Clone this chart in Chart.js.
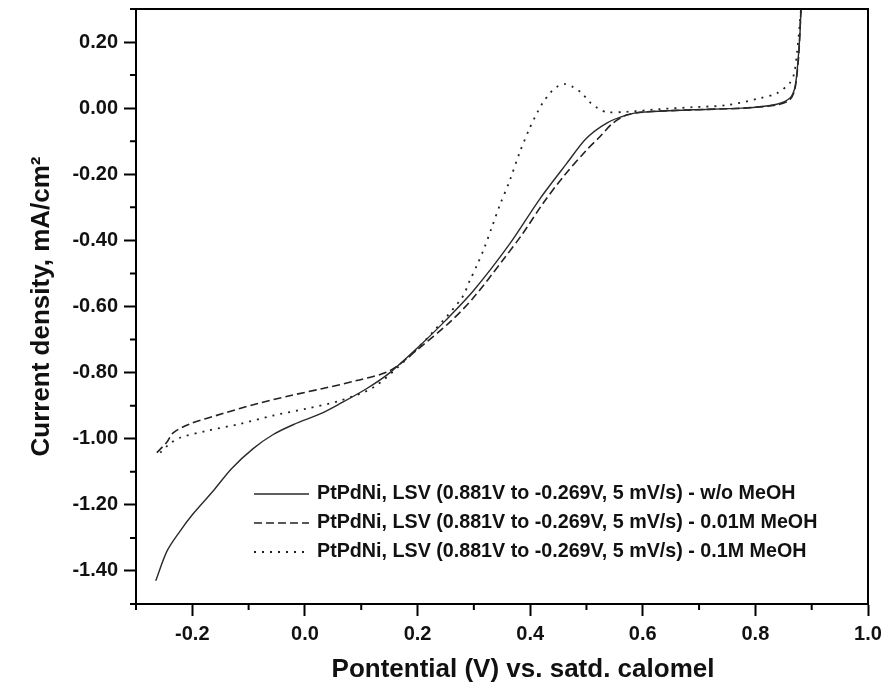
<!DOCTYPE html>
<html>
<head>
<meta charset="utf-8">
<script src="https://cdn.jsdelivr.net/npm/chart.js@4.4.0/dist/chart.umd.min.js"></script>
<style>
    html, body { margin: 0; padding: 0; background: #fff; }
    canvas { display: block; }
</style>
</head>
<body>
<canvas id="lsvChart" width="891" height="686"></canvas>
<script>
// legend labels
var seriesLabels = [
    "PtPdNi, LSV (0.881V to -0.269V, 5 mV/s) - w/o MeOH",
    "PtPdNi, LSV (0.881V to -0.269V, 5 mV/s) - 0.01M MeOH",
    "PtPdNi, LSV (0.881V to -0.269V, 5 mV/s) - 0.1M MeOH"
];
var xTitle = "Pontential (V) vs. satd. calomel";
var yTitle = "Current density, mA/cm\u00b2";

// w/o MeOH (solid)
var xNoMeoh = [-0.265, -0.245, -0.222, -0.200, -0.163, -0.130, -0.092, -0.057, -0.020, 0.027, 0.062, 0.110, 0.151, 0.200, 0.250, 0.300, 0.364, 0.417, 0.465, 0.500, 0.536, 0.571, 0.600, 0.689, 0.777, 0.838, 0.861, 0.869, 0.873, 0.876, 0.879, 0.881];
var yNoMeoh = [-1.430, -1.340, -1.280, -1.230, -1.158, -1.090, -1.030, -0.988, -0.957, -0.925, -0.894, -0.848, -0.800, -0.725, -0.642, -0.551, -0.410, -0.275, -0.167, -0.091, -0.045, -0.021, -0.012, -0.005, 0.000, 0.012, 0.030, 0.055, 0.094, 0.150, 0.220, 0.300];

// 0.01M MeOH (dashed)
var xLowMeoh = [-0.263, -0.245, -0.234, -0.204, -0.146, -0.085, -0.027, 0.032, 0.092, 0.151, 0.200, 0.257, 0.298, 0.351, 0.387, 0.422, 0.458, 0.500, 0.523, 0.547, 0.571, 0.600, 0.689, 0.777, 0.838, 0.861, 0.869, 0.873, 0.877, 0.879, 0.881];
var yLowMeoh = [-1.042, -1.010, -0.982, -0.955, -0.924, -0.894, -0.870, -0.848, -0.824, -0.794, -0.730, -0.648, -0.576, -0.461, -0.379, -0.290, -0.209, -0.127, -0.088, -0.045, -0.021, -0.012, -0.005, 0.000, 0.010, 0.025, 0.050, 0.090, 0.160, 0.230, 0.300];

// 0.1M MeOH (dotted)
var xHighMeoh = [-0.257, -0.240, -0.222, -0.174, -0.115, -0.057, 0.003, 0.062, 0.121, 0.180, 0.230, 0.279, 0.293, 0.307, 0.319, 0.332, 0.346, 0.364, 0.381, 0.399, 0.413, 0.422, 0.435, 0.447, 0.461, 0.476, 0.492, 0.506, 0.520, 0.536, 0.571, 0.630, 0.689, 0.749, 0.808, 0.838, 0.861, 0.869, 0.874, 0.878, 0.881];
var yHighMeoh = [-1.042, -1.015, -0.997, -0.976, -0.955, -0.930, -0.909, -0.885, -0.845, -0.760, -0.672, -0.573, -0.521, -0.470, -0.421, -0.360, -0.294, -0.218, -0.136, -0.061, -0.012, 0.015, 0.045, 0.064, 0.073, 0.064, 0.045, 0.018, 0.000, -0.012, -0.011, -0.003, 0.003, 0.009, 0.030, 0.045, 0.076, 0.106, 0.170, 0.240, 0.300];

function toPoints(xs, ys) {
    return xs.map(function (x, i) { return { x: x, y: ys[i] }; });
}

function isMajor(v) {
    return Math.abs(Math.round(v * 10)) % 2 === 0;
}

var fontFamily = "'Liberation Sans', Arial, sans-serif";

// box around plot, short minor ticks, x title (sits a bit right of centre in the original)
var frameAndMinorTicks = {
    id: "frameAndMinorTicks",
    afterDraw: function (chart) {
        var ctx = chart.ctx;
        var a = chart.chartArea;
        ctx.save();
        ctx.strokeStyle = "#000";
        ctx.lineWidth = 2;
        ctx.strokeRect(a.left, a.top, a.right - a.left, a.bottom - a.top);
        ctx.beginPath();
        chart.scales.x.ticks.forEach(function (t) {
            if (!isMajor(t.value)) {
                var px = chart.scales.x.getPixelForValue(t.value);
                ctx.moveTo(px, a.bottom);
                ctx.lineTo(px, a.bottom + 6);
            }
        });
        chart.scales.y.ticks.forEach(function (t) {
            if (!isMajor(t.value)) {
                var py = chart.scales.y.getPixelForValue(t.value);
                ctx.moveTo(a.left, py);
                ctx.lineTo(a.left - 6, py);
            }
        });
        ctx.stroke();

        ctx.fillStyle = "#111";
        ctx.font = "bold 26px " + fontFamily;
        ctx.textAlign = "center";
        ctx.textBaseline = "middle";
        ctx.fillText(xTitle, (a.left + a.right) / 2 + 21, 670);
        ctx.restore();
    }
};

// legend inside the plot, lower right
var insideLegend = {
    id: "insideLegend",
    afterDatasetsDraw: function (chart) {
        var ctx = chart.ctx;
        var rowY = [494, 523, 552];
        ctx.save();
        chart.data.datasets.forEach(function (ds, i) {
            ctx.beginPath();
            ctx.strokeStyle = ds.borderColor;
            ctx.lineWidth = ds.borderWidth;
            ctx.setLineDash(ds.borderDash || []);
            ctx.moveTo(254, rowY[i]);
            ctx.lineTo(309, rowY[i]);
            ctx.stroke();
            ctx.setLineDash([]);
            ctx.fillStyle = "#111";
            ctx.font = "bold 19.7px " + fontFamily;
            ctx.textBaseline = "middle";
            ctx.textAlign = "left";
            ctx.fillText(ds.label, 317, rowY[i]);
        });
        ctx.restore();
    }
};

var ctx = document.getElementById("lsvChart").getContext("2d");
var lsvChart = new Chart(ctx, {
    type: "line",
    data: {
        datasets: [
            {
                label: seriesLabels[0],
                data: toPoints(xNoMeoh, yNoMeoh),
                borderColor: "#2a2a2a",
                borderWidth: 1.4,
                borderDash: [],
                tension: 0.3
            },
            {
                label: seriesLabels[1],
                data: toPoints(xLowMeoh, yLowMeoh),
                borderColor: "#222",
                borderWidth: 1.6,
                borderDash: [8, 4],
                tension: 0.3
            },
            {
                label: seriesLabels[2],
                data: toPoints(xHighMeoh, yHighMeoh),
                borderColor: "#222",
                borderWidth: 1.8,
                borderDash: [2, 6],
                tension: 0.3
            }
        ]
    },
    options: {
        responsive: false,
        animation: false,
        devicePixelRatio: 1,
        elements: { point: { radius: 0 } },
        layout: { padding: { top: 9, right: 23, left: 0, bottom: 0 } },
        plugins: {
            legend: { display: false },
            tooltip: { enabled: false }
        },
        scales: {
            x: {
                type: "linear",
                min: -0.3,
                max: 1.0,
                afterFit: function (scale) {
                    scale.height = 82;
                    scale.paddingLeft = 0;
                    scale.paddingRight = 0;
                },
                border: { color: "#000", width: 2 },
                grid: {
                    drawOnChartArea: false,
                    tickLength: 12,
                    tickWidth: 2,
                    tickColor: function (c) { return isMajor(c.tick.value) ? "#000" : "rgba(0,0,0,0)"; }
                },
                ticks: {
                    stepSize: 0.1,
                    padding: 6,
                    color: "#111",
                    font: { family: fontFamily, size: 20, weight: "bold" },
                    maxRotation: 0,
                    autoSkip: false,
                    callback: function (v) { return isMajor(v) ? (Math.round(v * 10) / 10).toFixed(1) : ""; }
                },
                title: { display: false }
            },
            y: {
                min: -1.5,
                max: 0.3,
                afterFit: function (scale) {
                    scale.width = 136;
                    scale.paddingTop = 0;
                    scale.paddingBottom = 0;
                },
                border: { color: "#000", width: 2 },
                grid: {
                    drawOnChartArea: false,
                    tickLength: 12,
                    tickWidth: 2,
                    tickColor: function (c) { return isMajor(c.tick.value) ? "#000" : "rgba(0,0,0,0)"; }
                },
                ticks: {
                    stepSize: 0.1,
                    padding: 6,
                    color: "#111",
                    font: { family: fontFamily, size: 20, weight: "bold" },
                    autoSkip: false,
                    callback: function (v) { return isMajor(v) ? (Math.round(v * 10) / 10).toFixed(2) : ""; }
                },
                title: {
                    display: true,
                    text: yTitle,
                    color: "#111",
                    padding: { top: 26, bottom: 0 },
                    font: { family: fontFamily, size: 26, weight: "bold" }
                }
            }
        }
    },
    plugins: [frameAndMinorTicks, insideLegend]
});
</script>
</body>
</html>
